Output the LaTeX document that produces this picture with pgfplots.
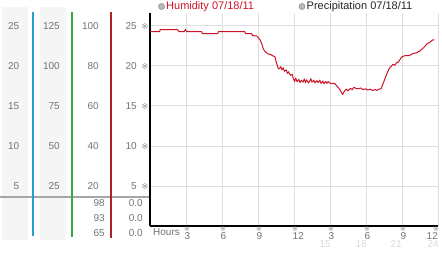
\documentclass[border=0pt]{standalone}
\usepackage{pgfplots}
\pgfplotsset{compat=1.18}
\usepackage{fontspec}
\setmainfont{Liberation Sans}
\newfontfamily\sym{DejaVu Sans}
\definecolor{bgcol}{RGB}{245,245,245}
\definecolor{hgray}{RGB}{165,165,165}
\definecolor{tealc}{RGB}{45,155,205}
\definecolor{greenc}{RGB}{55,170,55}
\definecolor{redv}{RGB}{175,35,40}
\definecolor{lab}{RGB}{115,115,115}
\definecolor{gridc}{RGB}{222,222,222}
\definecolor{markc}{RGB}{140,140,140}
\definecolor{faint}{RGB}{218,218,218}
\definecolor{humred}{RGB}{204,20,40}
\definecolor{circfill}{RGB}{185,185,185}
\definecolor{circdraw}{RGB}{140,140,140}
\newcommand\fsz{\fontsize{10bp}{12bp}\selectfont}
\newcommand\fleg{\fontsize{11bp}{13bp}\selectfont}
\newcommand\mk{{\sym\fontsize{8.5bp}{8.5bp}\selectfont\textcolor{markc}{※}}}
\newcommand\mks{{\sym\fontsize{7bp}{7bp}\selectfont\textcolor{markc}{※}}}
\begin{document}
\begin{tikzpicture}[x=1bp,y=1bp]
\useasboundingbox (0,0) rectangle (442,253);
% left panels
\fill[bgcol] (2,13) rectangle (28,246);
\fill[bgcol] (40,13) rectangle (66,246);
\draw[line width=2bp, hgray] (0,56) -- (149,56);
\draw[line width=1.3bp, tealc] (33,17) -- (33,241);
\draw[line width=1.3bp, greenc] (72,16) -- (72,241);
\draw[line width=1.3bp, redv] (111,15) -- (111,241);
\foreach \v/\a/\b in {25/125/100, 20/100/80, 15/75/60, 10/50/40, 5/25/20}{
  \pgfmathsetmacro\yy{27+8*\v}
  \node[anchor=east, inner sep=0pt, text=lab, font=\fsz] at (19.5,\yy) {\v};
  \node[anchor=east, inner sep=0pt, text=lab, font=\fsz] at (60,\yy) {\a};
  \node[anchor=east, inner sep=0pt, text=lab, font=\fsz] at (99,\yy) {\b};
  \node[inner sep=0pt] at (145,\yy) {\mk};
}
\foreach \a/\yy in {98/50, 93/35, 65/20.3}{
  \node[anchor=east, inner sep=0pt, text=lab, font=\fsz] at (105,\yy) {\a};
  \node[anchor=east, inner sep=0pt, text=lab, font=\fsz] at (143,\yy) {0.0};
}
% legend
\filldraw[fill=circfill, draw=circdraw, line width=0.6bp] (161.5,246.5) circle (3);
\node[anchor=base west, inner sep=0pt, text=humred, font=\fleg] at (166,243.7) {Humidity 07/18/11};
\filldraw[fill=circfill, draw=circdraw, line width=0.6bp] (302,246.5) circle (3);
\node[anchor=base west, inner sep=0pt, text=black!85, font=\fleg] at (306.5,243.7) {Precipitation 07/18/11};
% main axis
\begin{axis}[
  at={(150bp,27bp)}, anchor=origin, scale only axis,
  width=288bp, height=212.8bp,
  xmin=0, xmax=24, ymin=0, ymax=26.6,
  axis x line*=bottom, axis y line*=left,
  axis line style={-, black, line width=2bp},
  xtick={3,6,9,12,15,18,21,24},
  xticklabels={3,6,9,12,3,6,9,{\hspace*{-10bp}12}},
  ytick={5,10,15,20,25},
  yticklabels={5,10,15,20,25},
  major tick length=0pt,
  grid=major,
  major grid style={gridc, line width=1bp},
  xticklabel style={anchor=base west, inner sep=0pt, xshift=-1.5bp, yshift=-13.5bp, text=lab, font=\fsz},
  yticklabel style={anchor=east, inner sep=0pt, xshift=-13bp, text=lab, font=\fsz},
  clip=false,
]
\addplot[humred, line width=1bp, mark=none] coordinates {
(0.00,24.30) (0.80,24.30) (0.85,24.55) (2.30,24.55) (2.40,24.30) (2.85,24.30)
(2.95,24.55) (3.05,24.30) (4.30,24.30) (4.35,24.05) (5.65,24.05) (5.70,24.30)
(7.90,24.30) (7.95,24.05) (8.45,24.05) (8.55,23.80) (8.90,23.75) (9.05,23.50)
(9.20,23.20) (9.35,22.60) (9.45,22.10) (9.65,21.70) (9.85,21.50) (10.05,21.45)
(10.25,21.25) (10.40,21.20) (10.50,20.60) (10.60,20.10) (10.70,19.65) (10.80,19.70)
(10.90,19.90) (11.00,19.55) (11.10,19.75) (11.20,19.35) (11.35,19.50) (11.45,19.10)
(11.55,19.25) (11.70,18.85) (11.85,18.95) (11.95,18.40) (12.05,18.10) (12.15,18.45)
(12.25,18.05) (12.40,18.30) (12.50,17.95) (12.60,18.20) (12.75,18.00) (12.85,18.35)
(12.95,17.95) (13.05,18.25) (13.20,17.90) (13.30,18.10) (13.40,18.40) (13.50,18.00)
(13.65,18.20) (13.75,17.90) (13.90,18.15) (14.00,17.95) (14.15,18.20) (14.25,17.85)
(14.40,18.10) (14.50,17.80) (14.65,18.05) (14.75,17.85) (14.85,18.05) (15.00,17.85)
(15.40,17.80) (15.60,17.45) (15.80,17.10) (16.05,16.45) (16.20,16.85) (16.35,17.10)
(16.50,16.90) (16.70,17.20) (16.85,17.05) (17.00,17.35) (17.15,17.20) (17.35,17.15)
(17.55,17.25) (17.75,17.05) (17.95,17.15) (18.15,17.00) (18.35,17.10) (18.55,16.95)
(18.75,17.05) (18.90,16.95) (19.05,17.10) (19.25,17.15) (19.40,17.70) (19.55,18.30)
(19.70,18.90) (19.85,19.40) (19.95,19.75) (20.10,19.95) (20.25,20.20) (20.40,20.10)
(20.55,20.40) (20.70,20.50) (20.85,20.85) (21.00,21.15) (21.25,21.30) (21.60,21.30)
(21.90,21.55) (22.20,21.65) (22.50,21.90) (22.70,22.15) (22.90,22.45) (23.10,22.80)
(23.30,22.95) (23.55,23.25) (23.70,23.25)
};
\end{axis}
% x tick marks, hours label and faint labels
\node[anchor=base west, inner sep=0pt, text=lab, font=\fsz] at (153,18) {Hours};
\foreach \xx in {186,222,258,294,330,366,402,435}{
  \node[inner sep=0pt] at (\xx+1,23.8) {\mks};
}
\foreach \h/\xx in {15/331,18/367,21/402,24/439}{
  \node[anchor=base east, inner sep=0pt, text=faint, font=\fsz] at (\xx,6) {\h};
}
\end{tikzpicture}
\end{document}
